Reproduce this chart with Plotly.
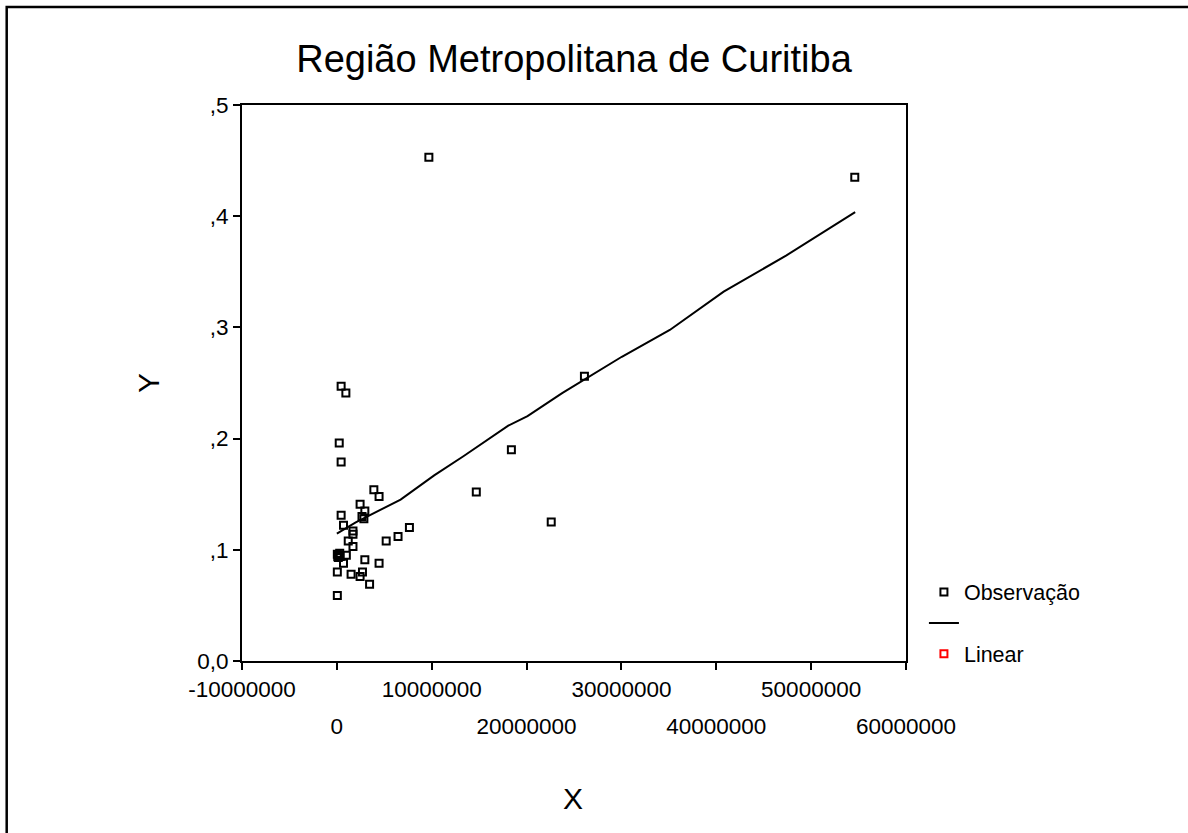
import plotly.graph_objects as go

# ---- data ----
obs_x_millions = [9.7, 54.6, 26.1, 18.4, 14.7, 22.6, 0.45, 0.95, 0.25, 0.45,
                  3.9, 4.45, 2.45, 2.95, 2.65, 2.85, 0.45, 0.7, 7.65, 6.45,
                  5.2, 1.7, 1.7, 1.2, 1.7, 0.05, 0.2, 0.3, 0.1, 1.0,
                  0.7, 2.95, 4.45, 0.05, 1.5, 2.7, 2.45, 3.45, 0.05, 0.15, 0.35]
obs_y = [0.453, 0.435, 0.256, 0.190, 0.152, 0.125, 0.247, 0.241, 0.196, 0.179,
         0.154, 0.148, 0.141, 0.135, 0.130, 0.128, 0.131, 0.122, 0.120, 0.112,
         0.108, 0.117, 0.114, 0.108, 0.103, 0.096, 0.095, 0.097, 0.094, 0.095,
         0.088, 0.091, 0.088, 0.080, 0.078, 0.080, 0.076, 0.069, 0.059, 0.093, 0.094]

fit_x_millions = [0.0, 1.99, 6.72, 10.26, 13.34, 18.07, 20.10, 23.75, 30.04, 35.10, 40.78, 47.40, 54.64]
fit_y = [0.1146, 0.1246, 0.1452, 0.1669, 0.1841, 0.2116, 0.2202, 0.2409, 0.2736, 0.2977, 0.3321, 0.3648, 0.4037]

x_ticks_row1 = [-10000000, 10000000, 30000000, 50000000]
x_ticks_row2 = [0, 20000000, 40000000, 60000000]
x_ticks_all = [-10000000, 0, 10000000, 20000000, 30000000, 40000000, 50000000, 60000000]
y_ticks = [0.0, 0.1, 0.2, 0.3, 0.4, 0.5]
y_tick_text = ["0,0", ",1", ",2", ",3", ",4", ",5"]

title_text = "Região Metropolitana de Curitiba"
legend_obs = "Observação"
legend_lin = "Linear"

obs_x = [v * 1e6 for v in obs_x_millions]
fit_x = [v * 1e6 for v in fit_x_millions]

FONT = "Liberation Sans, Arial, sans-serif"

fig = go.Figure()
fig.add_trace(go.Scatter(
    x=obs_x, y=obs_y, mode="markers", name=legend_obs,
    marker=dict(symbol="square-open", size=7, color="black", line=dict(width=2, color="black")),
))
fig.add_trace(go.Scatter(
    x=fit_x, y=fit_y, mode="lines", name=" ",
    line=dict(color="black", width=2),
))
fig.add_trace(go.Scatter(
    x=[None], y=[None], mode="markers", name=legend_lin,
    marker=dict(symbol="square-open", size=7, color="red", line=dict(width=2, color="red")),
))
# helper trace for the second row of x tick labels
fig.add_trace(go.Scatter(x=[None], y=[None], xaxis="x2", showlegend=False, hoverinfo="skip"))

fig.update_layout(
    width=1188, height=833,
    paper_bgcolor="white", plot_bgcolor="white",
    margin=dict(l=242, r=282, t=105, b=172),
    font=dict(family=FONT, size=22, color="black"),
    title=dict(text=title_text, x=0.5, xref="paper", xanchor="center",
               y=1 - 59 / 833, yref="container", yanchor="middle",
               font=dict(family=FONT, size=38, color="black")),
    xaxis=dict(range=[-10000000, 60000000], tickmode="array", tickvals=x_ticks_all,
               ticktext=[str(v) if v in x_ticks_row1 else "" for v in x_ticks_all],
               ticks="outside", ticklen=7, tickwidth=2, tickcolor="black",
               showline=True, linecolor="black", linewidth=2, mirror=True,
               showgrid=False, zeroline=False,
               tickfont=dict(family=FONT, size=22.5, color="black")),
    xaxis2=dict(range=[-10000000, 60000000], overlaying="x", anchor="y", side="bottom",
                tickmode="array", tickvals=x_ticks_row2,
                ticktext=[str(v) for v in x_ticks_row2],
                ticks="outside", ticklen=7, tickcolor="rgba(0,0,0,0)",
                ticklabelstandoff=38, showline=False, showgrid=False, zeroline=False,
                tickfont=dict(family=FONT, size=22.5, color="black")),
    yaxis=dict(range=[0, 0.5], tickmode="array", tickvals=y_ticks, ticktext=y_tick_text,
               ticks="outside", ticklen=7, tickwidth=2, tickcolor="black",
               showline=True, linecolor="black", linewidth=2, mirror=True,
               showgrid=False, zeroline=False,
               tickfont=dict(family=FONT, size=22.5, color="black")),
    legend=dict(x=1.027, xanchor="left", y=0.161, yanchor="top",
                bgcolor="rgba(0,0,0,0)", borderwidth=0, traceorder="normal",
                font=dict(family=FONT, size=21.5, color="black")),
    showlegend=True,
)

fig.add_annotation(text="X", xref="paper", yref="paper", x=0.498, y=-0.248,
                   showarrow=False, xanchor="center", yanchor="middle",
                   font=dict(family=FONT, size=30, color="black"))
fig.add_annotation(text="Y", xref="paper", yref="paper", x=-0.1416, y=0.5,
                   showarrow=False, xanchor="center", yanchor="middle", textangle=-90,
                   font=dict(family=FONT, size=30, color="black"))

# outer frame of the chart window
fig.add_shape(type="rect", xref="paper", yref="paper",
              x0=(6.7 - 242) / 664, x1=2.0, y0=-1.0, y1=(661 - 7) / 556,
              line=dict(color="black", width=2.5), fillcolor="rgba(0,0,0,0)", layer="above")

fig.write_html("out.html",
               config={"displayModeBar": False},
               post_script="document.body.style.margin='0';document.body.style.overflow='hidden';")
